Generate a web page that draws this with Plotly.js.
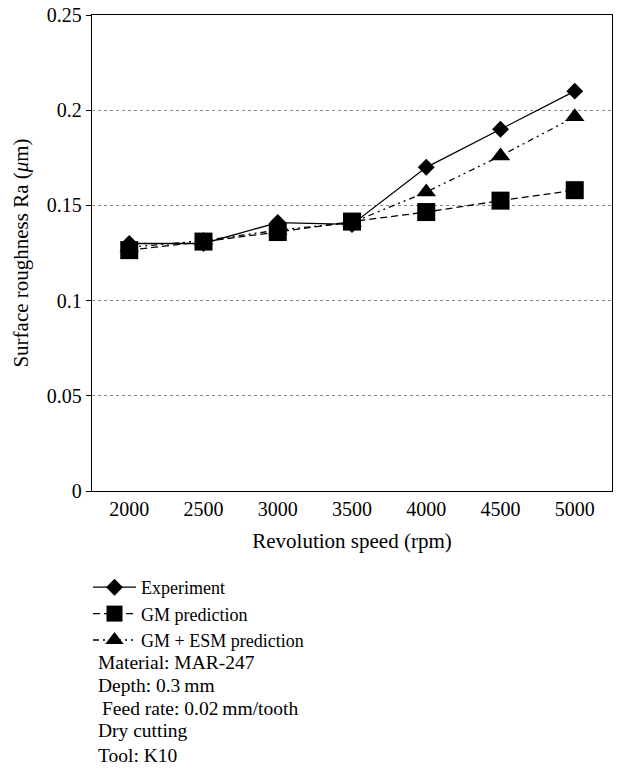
<!DOCTYPE html>
<html>
<head>
<meta charset="utf-8">
<script src="https://cdn.plot.ly/plotly-3.0.1.min.js"></script>
<style>html,body{margin:0;padding:0;background:#fff;}#chart{width:617px;height:773px;}</style>
</head>
<body>
<div id="chart"></div>
<script>
const speeds = ["2000", "2500", "3000", "3500", "4000", "4500", "5000"];
const experiment = [0.130, 0.130, 0.141, 0.140, 0.170, 0.190, 0.210];
const gmPrediction = [0.1265, 0.131, 0.136, 0.1415, 0.1465, 0.1525, 0.158];
const gmEsmPrediction = [0.128, 0.1315, 0.137, 0.141, 0.157, 0.176, 0.1965];
const yTicks = [0, 0.05, 0.1, 0.15, 0.2, 0.25];
const yTickText = ["0", "0.05", "0.1", "0.15", "0.2", "0.25"];
const notes = ["Material: MAR-247", "Depth: 0.3\u2009mm", "Feed rate: 0.02\u2009mm/tooth", "Dry cutting", "Tool: K10"];

const serif = "Liberation Serif, Times New Roman, serif";

// plot area in pixels (for converting note positions to paper coords)
const PL = 92, PR = 612, PT = 15, PB = 491;
const noteY = [662, 685, 708, 730, 755];
const noteX = [96, 96, 100, 96, 96];

const traces = [
  {x: speeds, y: experiment, name: "Experiment", mode: "lines+markers",
   line: {color: "#000", width: 1.3, dash: "solid"},
   marker: {symbol: "diamond", size: 13, color: "#000"}},
  {x: speeds, y: gmPrediction, name: "GM prediction", mode: "lines+markers",
   line: {color: "#000", width: 1.3, dash: "7px,4px"},
   marker: {symbol: "square", size: 18, color: "#000"}},
  {x: speeds, y: gmEsmPrediction, name: "GM + ESM prediction", mode: "lines+markers",
   line: {color: "#000", width: 1.3, dash: "6px,4px,2px,4px,2px,4px"},
   marker: {symbol: "triangle-up", size: 17, color: "#000"}}
];

const annotations = notes.map((t, i) => ({
  text: t, xref: "paper", yref: "paper",
  x: (noteX[i] - PL) / (PR - PL), y: (PB - noteY[i]) / (PB - PT),
  xanchor: "left", yanchor: "middle", showarrow: false,
  font: {family: serif, size: 19.5, color: "#000"}
}));

const layout = {
  width: 617, height: 773,
  margin: {l: PL, r: 617 - PR, t: PT, b: 773 - PB, autoexpand: false},
  paper_bgcolor: "#fff", plot_bgcolor: "#fff",
  font: {family: serif, size: 20, color: "#000"},
  showlegend: true,
  legend: {
    xref: "paper", yref: "paper",
    x: (88 - PL) / (PR - PL), y: (PB - 569) / (PB - PT), xanchor: "left", yanchor: "top",
    bgcolor: "rgba(0,0,0,0)", font: {family: serif, size: 18, color: "#000"},
    itemwidth: 43, tracegroupgap: 0
  },
  xaxis: {
    type: "category", showline: true, linecolor: "#000", linewidth: 1.3, mirror: true,
    ticks: "", showgrid: false, zeroline: false,
    tickfont: {family: serif, size: 20, color: "#000"},
    title: {text: "Revolution speed (rpm)", font: {family: serif, size: 21, color: "#000"}, standoff: 14}
  },
  yaxis: {
    range: [0, 0.25], tickvals: yTicks, ticktext: yTickText,
    showline: true, linecolor: "#000", linewidth: 1.3, mirror: true,
    ticks: "outside", ticklen: 5, tickcolor: "#000",
    showgrid: true, gridcolor: "#888", griddash: "dot", gridwidth: 1, zeroline: false,
    tickfont: {family: serif, size: 20, color: "#000"},
    title: {text: "Surface roughness Ra (<i>\u03bc</i>m)", font: {family: serif, size: 21, color: "#000"}, standoff: 12}
  },
  annotations: annotations
};

Plotly.newPlot("chart", traces, layout, {displayModeBar: false, staticPlot: true});
</script>
</body>
</html>
